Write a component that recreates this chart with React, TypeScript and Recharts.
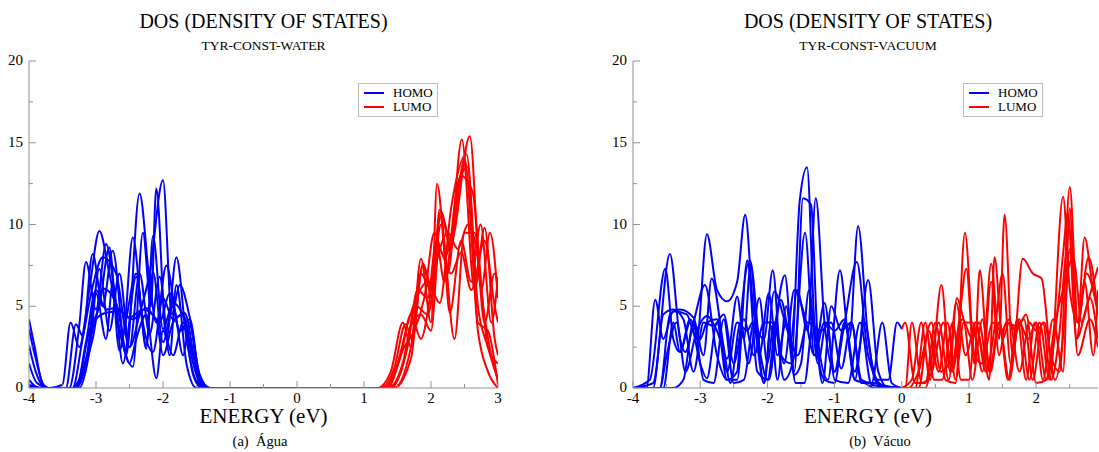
import React from "react";
import { LineChart, Line, XAxis, YAxis } from "recharts";

type Pt = [number, number];

// HOMO / LUMO density-of-states curves (energy eV, DOS)
const waterHomo: Pt[][] = [
  [[-4, 4.2], [-3.92, 2.6], [-3.8, 0.3], [-3.7, 0], [-3.5, 0.2], [-3.38, 4.0], [-3.25, 2.5], [-3.1, 6], [-2.95, 9.6], [-2.8, 7], [-2.6, 3.2], [-2.45, 9.2], [-2.3, 4], [-2.15, 2.2], [-2.0, 5.5], [-1.85, 4.2], [-1.68, 4.6], [-1.5, 1.2], [-1.35, 0], [0, 0]],
  [[-4, 3.6], [-3.9, 1.8], [-3.75, 0], [-3.45, 0], [-3.3, 3.9], [-3.2, 3.2], [-3.05, 8.2], [-2.9, 5], [-2.75, 8.4], [-2.55, 2.0], [-2.35, 11.9], [-2.2, 6.5], [-2.1, 4.0], [-1.95, 7.5], [-1.75, 3.5], [-1.6, 4.2], [-1.45, 0.6], [-1.3, 0], [0, 0]],
  [[-4, 2.6], [-3.9, 1.0], [-3.75, 0], [-3.4, 0], [-3.25, 3.8], [-3.15, 7.7], [-3.0, 4.8], [-2.85, 8.8], [-2.65, 3.5], [-2.45, 1.3], [-2.3, 9.5], [-2.18, 5.0], [-2.1, 12.2], [-1.95, 3.0], [-1.8, 8.0], [-1.65, 3.0], [-1.5, 0.4], [-1.35, 0], [0, 0]],
  [[-4, 1.5], [-3.88, 0.3], [-3.7, 0], [-3.35, 0], [-3.2, 3.0], [-3.05, 6.2], [-2.9, 8.0], [-2.7, 7.0], [-2.5, 2.5], [-2.35, 4.5], [-2.2, 7.0], [-2.0, 12.7], [-1.87, 4.5], [-1.75, 6.3], [-1.6, 4.3], [-1.45, 0.8], [-1.3, 0], [0, 0]],
  [[-4, 0.5], [-3.85, 0], [-3.3, 0], [-3.15, 2.8], [-3.0, 6.0], [-2.85, 4.8], [-2.7, 4.9], [-2.5, 4.3], [-2.3, 4.8], [-2.1, 4.2], [-2.0, 2.0], [-1.85, 4.0], [-1.7, 4.5], [-1.55, 1.5], [-1.4, 0], [0, 0]],
  [[-4, 0.2], [-3.8, 0], [-3.3, 0], [-3.15, 1.8], [-3.0, 4.2], [-2.85, 4.6], [-2.65, 4.7], [-2.45, 4.2], [-2.25, 4.9], [-2.05, 4.0], [-1.9, 5.8], [-1.75, 3.5], [-1.6, 3.8], [-1.45, 0.6], [-1.3, 0], [0, 0]],
  [[-4, 0.1], [-3.8, 0], [-3.25, 0], [-3.1, 2.2], [-2.95, 7.3], [-2.8, 3.5], [-2.65, 7.0], [-2.5, 2.5], [-2.35, 7.0], [-2.2, 3.3], [-2.05, 6.8], [-1.9, 2.0], [-1.8, 6.3], [-1.65, 1.5], [-1.5, 0], [0, 0]],
  [[-4, 0], [-3.3, 0], [-3.15, 1.5], [-3.0, 5.8], [-2.85, 3.0], [-2.75, 6.4], [-2.6, 1.5], [-2.4, 6.8], [-2.25, 2.6], [-2.15, 7.1], [-2.0, 2.8], [-1.85, 5.0], [-1.7, 2.0], [-1.6, 4.0], [-1.45, 0.3], [-1.35, 0], [0, 0]],
  [[-4, 0], [-3.35, 0], [-3.2, 1.0], [-3.05, 3.0], [-2.9, 6.1], [-2.7, 5.2], [-2.5, 1.5], [-2.4, 3.0], [-2.25, 4.5], [-2.1, 0.6], [-2.0, 3.5], [-1.85, 2.0], [-1.7, 4.0], [-1.55, 0.8], [-1.42, 0], [0, 0]],
  [[-4, 0], [-3.3, 0], [-3.1, 3.5], [-2.95, 5.0], [-2.8, 8.6], [-2.65, 2.3], [-2.55, 4.2], [-2.4, 7.0], [-2.25, 2.4], [-2.15, 9.3], [-2.0, 3.6], [-1.85, 5.2], [-1.7, 4.4], [-1.55, 2.0], [-1.4, 0], [0, 0]],
];

const waterLumo: Pt[][] = [
  [[0, 0], [1.2, 0], [1.4, 1.0], [1.58, 4.0], [1.7, 2.5], [1.85, 7.9], [2.0, 4.0], [2.09, 12.5], [2.25, 7.0], [2.46, 15.2], [2.65, 6.0], [2.8, 9.8], [2.95, 3.0], [3, 2.0]],
  [[0, 0], [1.25, 0], [1.45, 1.2], [1.62, 3.9], [1.72, 3.0], [1.88, 7.6], [2.02, 6.0], [2.13, 10.9], [2.3, 9.0], [2.58, 15.4], [2.75, 6.0], [2.88, 9.5], [3, 5.5]],
  [[0, 0], [1.3, 0], [1.5, 1.5], [1.65, 3.9], [1.78, 5.5], [1.95, 6.5], [2.13, 5.2], [2.3, 11.0], [2.53, 14.3], [2.7, 5.0], [2.85, 2.5], [3, 0.5]],
  [[0, 0], [1.3, 0], [1.55, 2.0], [1.7, 4.5], [1.85, 3.0], [2.0, 6.0], [2.15, 10.5], [2.28, 4.6], [2.45, 9.0], [2.6, 6.5], [2.74, 10.0], [2.9, 4.0], [3, 6.8]],
  [[0, 0], [1.35, 0], [1.6, 2.5], [1.75, 3.5], [1.9, 5.5], [2.05, 9.5], [2.2, 8.0], [2.36, 10.5], [2.5, 14.0], [2.7, 3.5], [2.85, 1.0], [3, 0]],
  [[0, 0], [1.4, 0], [1.6, 1.8], [1.78, 5.0], [1.95, 4.5], [2.1, 8.0], [2.25, 9.5], [2.4, 8.5], [2.55, 10.0], [2.7, 8.0], [2.85, 2.5], [3, 1.5]],
  [[0, 0], [1.35, 0], [1.55, 1.0], [1.7, 3.8], [1.85, 4.5], [2.0, 3.5], [2.12, 8.5], [2.3, 7.0], [2.45, 8.3], [2.6, 6.0], [2.8, 9.0], [2.95, 5.0], [3, 4.0]],
  [[0, 0], [1.4, 0], [1.65, 2.5], [1.8, 6.0], [1.95, 5.5], [2.08, 9.0], [2.2, 6.5], [2.4, 12.5], [2.55, 13.5], [2.7, 4.0], [2.85, 3.5], [3, 0.2]],
  [[0, 0], [1.45, 0], [1.7, 2.5], [1.85, 7.0], [2.0, 6.0], [2.15, 10.0], [2.35, 3.0], [2.5, 9.5], [2.65, 9.5], [2.8, 4.0], [2.95, 7.0], [3, 6.0]],
  [[0, 0], [1.45, 0], [1.7, 1.8], [1.88, 7.5], [2.02, 5.5], [2.14, 10.8], [2.3, 8.5], [2.44, 13.0], [2.62, 12.0], [2.78, 5.0], [2.9, 2.0], [3, 0.5]],
];

const vacuumHomo: Pt[][] = [
  [[-4, 0], [-3.8, 0], [-3.67, 5.4], [-3.55, 3.0], [-3.4, 4.7], [-3.2, 4.5], [-3.05, 3.0], [-2.9, 9.4], [-2.75, 6.0], [-2.6, 5.3], [-2.45, 6.5], [-2.33, 10.6], [-2.2, 4.5], [-2.05, 3.0], [-1.92, 7.2], [-1.8, 2.0], [-1.65, 1.5], [-1.52, 11.4], [-1.41, 13.5], [-1.3, 4.0], [-1.15, 0.5], [-1.0, 0.3], [-0.85, 4.0], [-0.7, 0.5], [-0.55, 0.3], [-0.4, 0], [0, 0]],
  [[-4, 0], [-3.75, 0.5], [-3.52, 7.3], [-3.4, 3.0], [-3.3, 2.2], [-3.15, 4.0], [-3.0, 1.5], [-2.9, 0.6], [-2.75, 4.0], [-2.6, 0.5], [-2.45, 0.5], [-2.3, 7.8], [-2.15, 1.0], [-1.98, 0.5], [-1.8, 5.4], [-1.65, 3.0], [-1.56, 6.0], [-1.4, 3.5], [-1.28, 11.6], [-1.15, 4.0], [-1.0, 1.0], [-0.85, 4.0], [-0.67, 7.7], [-0.5, 2.0], [-0.3, 0.2], [0, 0]],
  [[-4, 0], [-3.7, 0.3], [-3.45, 8.2], [-3.3, 3.0], [-3.22, 2.2], [-3.1, 4.0], [-2.93, 6.3], [-2.75, 2.0], [-2.6, 0.5], [-2.45, 1.0], [-2.38, 5.0], [-2.26, 7.8], [-2.1, 2.0], [-2.0, 0.5], [-1.88, 4.0], [-1.74, 6.9], [-1.6, 1.0], [-1.47, 11.6], [-1.35, 11.2], [-1.25, 3.0], [-1.1, 0.5], [-0.92, 7.2], [-0.78, 3.0], [-0.65, 9.9], [-0.5, 3.0], [-0.35, 0.5], [-0.2, 0.5], [-0.07, 4.0], [0, 3.6]],
  [[-4, 0], [-3.6, 0], [-3.45, 4.5], [-3.3, 4.8], [-3.1, 4.3], [-2.95, 2.0], [-2.83, 6.7], [-2.65, 2.5], [-2.55, 0.3], [-2.4, 4.0], [-2.28, 1.5], [-2.12, 5.5], [-2.0, 1.5], [-1.9, 4.0], [-1.75, 0.5], [-1.6, 2.0], [-1.44, 9.5], [-1.3, 2.0], [-1.15, 5.2], [-1.0, 1.0], [-0.85, 4.0], [-0.7, 0.5], [-0.5, 6.6], [-0.35, 1.0], [-0.2, 0], [0, 0]],
  [[-4, 0], [-3.55, 0], [-3.4, 4.0], [-3.3, 2.2], [-3.15, 4.2], [-3.0, 3.0], [-2.9, 4.0], [-2.75, 4.2], [-2.6, 1.0], [-2.45, 4.0], [-2.3, 3.5], [-2.22, 4.0], [-2.05, 0.3], [-1.9, 5.9], [-1.7, 3.5], [-1.55, 2.0], [-1.4, 4.0], [-1.2, 3.5], [-1.05, 4.0], [-0.9, 1.2], [-0.75, 4.0], [-0.6, 0.5], [-0.45, 0.3], [-0.29, 4.0], [-0.15, 0.3], [0, 0]],
  [[-4, 0], [-3.7, 0], [-3.55, 4.5], [-3.4, 4.8], [-3.25, 4.2], [-3.1, 1.0], [-2.95, 4.0], [-2.8, 3.8], [-2.65, 4.5], [-2.5, 1.5], [-2.35, 4.2], [-2.2, 2.0], [-2.05, 4.0], [-1.9, 4.0], [-1.75, 1.5], [-1.6, 6.0], [-1.45, 4.5], [-1.3, 2.0], [-1.15, 4.0], [-1.0, 3.5], [-0.85, 4.2], [-0.7, 1.0], [-0.55, 4.0], [-0.4, 0.5], [-0.25, 0], [0, 0]],
  [[-4, 0], [-3.4, 0], [-3.25, 0.5], [-3.1, 4.0], [-2.95, 0.5], [-2.8, 0.3], [-2.65, 4.2], [-2.5, 0.3], [-2.35, 0.5], [-2.2, 4.0], [-2.05, 0.3], [-1.95, 3.8], [-1.85, 0.5], [-1.72, 5.0], [-1.58, 0.3], [-1.45, 0.3], [-1.32, 4.0], [-1.18, 0.3], [-1.05, 5.0], [-0.9, 3.5], [-0.75, 4.0], [-0.6, 0.3], [-0.4, 0.3], [-0.25, 0], [0, 0]],
  [[-4, 0], [-3.6, 0], [-3.5, 2.0], [-3.35, 4.0], [-3.22, 1.0], [-3.05, 3.5], [-2.9, 4.4], [-2.75, 3.5], [-2.6, 1.8], [-2.45, 5.6], [-2.35, 3.0], [-2.25, 7.5], [-2.12, 2.0], [-1.98, 5.8], [-1.85, 2.0], [-1.72, 4.0], [-1.6, 0.8], [-1.5, 1.5], [-1.38, 6.0], [-1.25, 1.5], [-1.12, 4.0], [-1.0, 0.5], [-0.8, 0.3], [-0.62, 4.0], [-0.45, 0.2], [0, 0]],
];

const vacuumLumo: Pt[][] = [
  [[0, 3.6], [0.05, 4.0], [0.2, 0.3], [0.35, 0.3], [0.5, 4.0], [0.65, 0.5], [0.8, 0.3], [0.94, 9.5], [1.08, 2.0], [1.2, 1.5], [1.33, 7.6], [1.45, 3.0], [1.53, 10.6], [1.65, 2.0], [1.8, 7.9], [1.95, 7.0], [2.08, 6.7], [2.22, 2.0], [2.35, 1.0], [2.5, 12.3], [2.62, 4.0], [2.72, 9.2], [2.85, 6.0], [2.92, 5.0]],
  [[0, 0], [0.15, 0.5], [0.29, 4.0], [0.42, 0.5], [0.59, 6.3], [0.72, 1.0], [0.85, 4.0], [0.96, 7.3], [1.08, 1.5], [1.16, 7.2], [1.3, 1.0], [1.45, 4.0], [1.6, 0.5], [1.75, 4.2], [1.9, 0.5], [2.05, 4.0], [2.2, 0.5], [2.4, 11.7], [2.5, 6.0], [2.62, 4.0], [2.78, 8.0], [2.92, 4.5]],
  [[0, 0], [0.1, 0], [0.25, 1.0], [0.44, 4.0], [0.58, 1.0], [0.7, 1.5], [0.81, 5.2], [0.95, 2.0], [1.1, 4.0], [1.25, 1.0], [1.4, 4.2], [1.5, 7.0], [1.62, 1.5], [1.75, 4.0], [1.88, 3.0], [2.0, 4.0], [2.15, 0.5], [2.3, 4.0], [2.4, 8.2], [2.47, 10.7], [2.6, 3.0], [2.75, 5.0], [2.92, 7.4]],
  [[0, 0], [0.25, 0], [0.4, 3.5], [0.55, 1.0], [0.68, 4.0], [0.8, 0.5], [0.92, 4.0], [1.05, 0.5], [1.2, 4.2], [1.32, 1.0], [1.45, 4.0], [1.58, 0.5], [1.72, 4.2], [1.85, 0.5], [1.98, 4.0], [2.1, 0.5], [2.25, 4.2], [2.4, 1.0], [2.5, 11.0], [2.6, 3.0], [2.72, 6.5], [2.85, 2.0], [2.92, 6.0]],
  [[0, 0], [0.05, 0], [0.15, 4.0], [0.3, 0.3], [0.45, 1.0], [0.62, 4.0], [0.75, 1.0], [0.9, 4.2], [1.05, 3.0], [1.15, 4.0], [1.3, 0.5], [1.38, 8.0], [1.5, 3.0], [1.6, 4.0], [1.7, 3.5], [1.85, 4.5], [2.0, 0.3], [2.15, 0.5], [2.28, 4.0], [2.4, 6.0], [2.55, 8.0], [2.68, 4.0], [2.8, 5.5], [2.92, 3.0]],
  [[0, 0], [0.35, 0], [0.55, 4.0], [0.7, 0.5], [0.82, 5.5], [0.95, 4.0], [1.05, 4.0], [1.2, 1.0], [1.33, 6.5], [1.45, 2.0], [1.55, 4.0], [1.7, 3.8], [1.82, 4.2], [1.95, 0.5], [2.1, 4.0], [2.22, 0.5], [2.35, 3.5], [2.45, 8.2], [2.52, 8.3], [2.62, 4.0], [2.75, 7.0], [2.92, 4.5]],
  [[0, 0], [0.2, 0], [0.35, 4.0], [0.48, 0.5], [0.6, 0.5], [0.76, 4.0], [0.88, 0.5], [1.0, 0.5], [1.1, 4.0], [1.22, 2.0], [1.35, 4.0], [1.48, 3.5], [1.6, 4.2], [1.75, 1.0], [1.9, 4.0], [2.0, 3.5], [2.12, 4.0], [2.28, 0.5], [2.42, 4.0], [2.5, 8.5], [2.62, 2.0], [2.8, 4.2], [2.92, 2.5]],
];

const energyTicks = [-4, -3.5, -3, -2.5, -2, -1.5, -1, -0.5, 0, 0.5, 1, 1.5, 2, 2.5, 3];
const dosTicks = [0, 2.5, 5, 7.5, 10, 12.5, 15, 17.5, 20];

const FRAME = "#8f8f8f";
const SERIF = '"Liberation Serif", "Times New Roman", Times, serif';

const toRows = (c: Pt[]) => c.map(([x, y]) => ({ x, y }));

function BottomTick({ x, y, payload }: any) {
  const major = Number.isInteger(payload.value);
  return (
    <g>
      <line x1={x} y1={y} x2={x} y2={y - (major ? 7 : 4)} stroke={FRAME} />
      {major && (
        <text x={x} y={y + 15} textAnchor="middle" fill="#000" style={{ fontFamily: SERIF, fontSize: 15 }}>
          {payload.value}
        </text>
      )}
    </g>
  );
}

function TopTick({ x, y, payload }: any) {
  const major = Number.isInteger(payload.value);
  return <line x1={x} y1={y} x2={x} y2={y + (major ? 7 : 4)} stroke={FRAME} />;
}

function LeftTick({ x, y, payload }: any) {
  const major = payload.value % 5 === 0;
  return (
    <g>
      <line x1={x} y1={y} x2={x + (major ? 7 : 4)} y2={y} stroke={FRAME} />
      {major && (
        <text x={x - 6} y={y + 4} textAnchor="end" fill="#000" style={{ fontFamily: SERIF, fontSize: 15 }}>
          {payload.value}
        </text>
      )}
    </g>
  );
}

function RightTick({ x, y, payload }: any) {
  const major = payload.value % 5 === 0;
  return <line x1={x} y1={y} x2={x - (major ? 7 : 4)} y2={y} stroke={FRAME} />;
}

function Legend({ left }: { left: number }) {
  const row = (color: string, label: string) => (
    <div style={{ display: "flex", alignItems: "center", height: 14 }}>
      <div style={{ width: 20, height: 2, background: color, marginLeft: 5, marginRight: 9 }} />
      <span style={{ fontFamily: SERIF, fontSize: 13 }}>{label}</span>
    </div>
  );
  return (
    <div
      style={{
        position: "absolute",
        left,
        top: 83,
        width: 78,
        height: 30,
        border: "1px solid #bbb",
        background: "#fff",
        paddingTop: 2,
        boxSizing: "content-box",
      }}
    >
      {row("#0000ff", "HOMO")}
      {row("#ff0000", "LUMO")}
    </div>
  );
}

interface PanelProps {
  left: number;
  width: number;
  rightMargin: number;
  xMax: number;
  homo: Pt[][];
  lumo: Pt[][];
}

function Panel({ left, width, rightMargin, xMax, homo, lumo }: PanelProps) {
  const ticks = energyTicks.filter((t) => t <= xMax);
  const axisCommon = {
    tickSize: 0,
    tickMargin: 0,
    tickLine: false,
    axisLine: { stroke: FRAME },
    interval: 0 as const,
    allowDataOverflow: true,
  };
  return (
    <div style={{ position: "absolute", left, top: 0, width, height: 452 }}>
      <LineChart width={width} height={452} margin={{ top: 61, right: rightMargin, left: 0, bottom: 0 }}>
        <XAxis xAxisId="b" dataKey="x" type="number" domain={[-4, xMax]} ticks={ticks} height={64} tick={<BottomTick />} {...axisCommon} />
        <XAxis xAxisId="t" orientation="top" type="number" domain={[-4, xMax]} ticks={ticks} height={0} tick={<TopTick />} {...axisCommon} />
        <YAxis yAxisId="l" type="number" domain={[0, 20]} ticks={dosTicks} width={29} tick={<LeftTick />} {...axisCommon} />
        <YAxis yAxisId="r" orientation="right" type="number" domain={[0, 20]} ticks={dosTicks} width={0} tick={<RightTick />} {...axisCommon} />
        {homo.map((c, i) => (
          <Line
            key={"h" + i}
            xAxisId="b"
            yAxisId="l"
            data={toRows(c)}
            dataKey="y"
            type="monotone"
            stroke="#0000ff"
            strokeWidth={2}
            dot={false}
            isAnimationActive={false}
          />
        ))}
        {lumo.map((c, i) => (
          <Line
            key={"l" + i}
            xAxisId="b"
            yAxisId="l"
            data={toRows(c)}
            dataKey="y"
            type="monotone"
            stroke="#ff0000"
            strokeWidth={2}
            dot={false}
            isAnimationActive={false}
          />
        ))}
      </LineChart>
    </div>
  );
}

function Texts({ cx, sub, caption, capX }: { cx: number; sub: string; caption: string; capX: number }) {
  return (
    <>
      <text x={cx} y={28} textAnchor="middle" style={{ fontFamily: SERIF, fontSize: 20 }}>
        DOS (DENSITY OF STATES)
      </text>
      <text x={cx} y={50} textAnchor="middle" style={{ fontFamily: SERIF, fontSize: 13.5 }}>
        {sub}
      </text>
      <text x={cx} y={423} textAnchor="middle" style={{ fontFamily: SERIF, fontSize: 21 }}>
        ENERGY (eV)
      </text>
      <text x={capX} y={446} textAnchor="middle" style={{ fontFamily: SERIF, fontSize: 14.5, whiteSpace: "pre" }}>
        {caption}
      </text>
    </>
  );
}

export default function App() {
  return (
    <div style={{ position: "absolute", left: 0, top: 0, width: 1099, height: 452, background: "#fff", overflow: "hidden", fontFamily: SERIF }}>
      <Panel left={0} width={520} rightMargin={22} xMax={3} homo={waterHomo} lumo={waterLumo} />
      <Panel left={604} width={495} rightMargin={1} xMax={2.92} homo={vacuumHomo} lumo={vacuumLumo} />
      <Legend left={358} />
      <Legend left={963} />
      <svg width={1099} height={452} style={{ position: "absolute", left: 0, top: 0, pointerEvents: "none" }}>
        <Texts cx={263.5} sub="TYR-CONST-WATER" caption="(a)  Água" capX={260} />
        <Texts cx={868} sub="TYR-CONST-VACUUM" caption="(b)  Vácuo" capX={880} />
      </svg>
    </div>
  );
}
